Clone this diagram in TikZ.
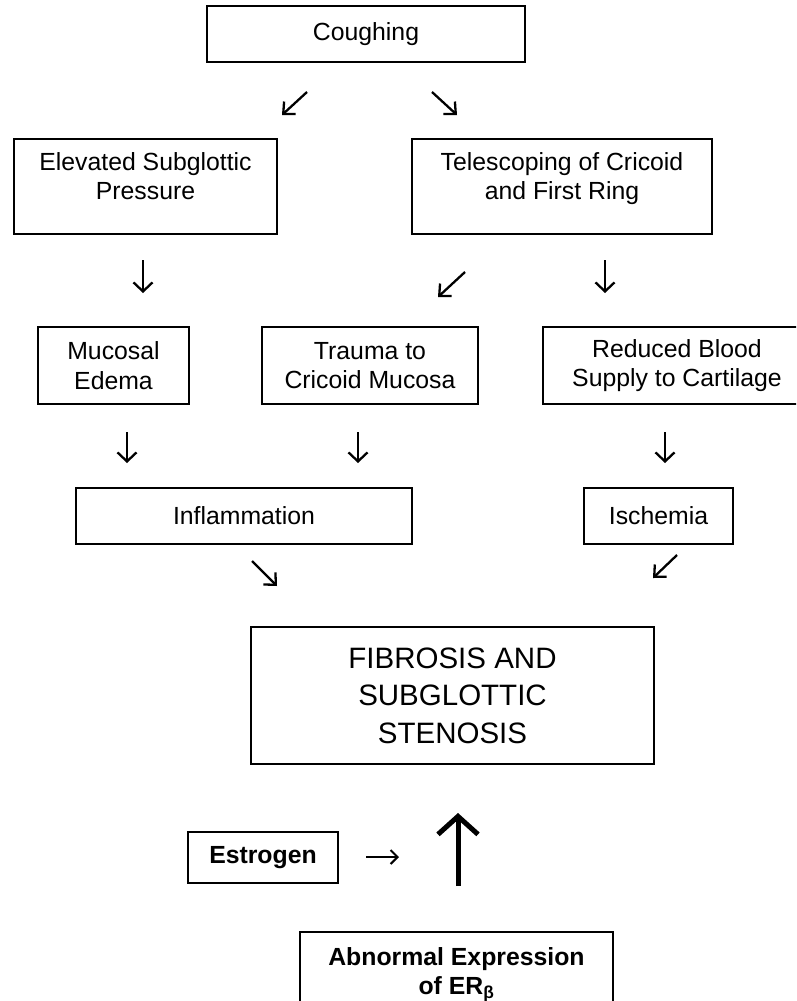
\documentclass[tikz,border=0pt]{standalone}
\usepackage{fontspec}
\setmainfont{Liberation Sans}
\usetikzlibrary{arrows.meta}
\newcommand{\upby}[2]{\raisebox{#1}[\height][\depth]{#2}}
\begin{document}
\begin{tikzpicture}[x=1pt,y=-1pt,
  box/.style={draw, line width=1.4pt, inner sep=0pt, align=center,
    font=\fontsize{24.8}{29.5}\selectfont},
  boldbox/.style={box, font=\fontsize{24.8}{29.5}\selectfont\bfseries},
  bigbox/.style={box, font=\fontsize{29.5}{37.5}\selectfont},
  arr/.style={line width=2.3pt, -{Straight Barb[length=9pt,width=19pt]}},
  darr/.style={line width=2.3pt, -{Straight Barb[length=9pt,width=17pt]}},
  harr/.style={line width=2pt, -{Straight Barb[length=7pt,width=14pt]}},
  bigarr/.style={line width=5pt, -{Straight Barb[length=18pt,width=40pt]}}]
\useasboundingbox (0,0) rectangle (796,1001);
\clip (0,0) rectangle (796,1001);
% boxes
\node[box, minimum width=318, minimum height=56] (cough) at (366,34) {Coughing};
\node[box, minimum width=263, minimum height=95] (elev) at (145.5,186.5)
  {\upby{7.5pt}{\begin{tabular}{@{}c@{}}Elevated Subglottic\\Pressure\end{tabular}}};
\node[box, minimum width=300, minimum height=95] (tele) at (562,186.5)
  {\upby{7.5pt}{\begin{tabular}{@{}c@{}}Telescoping of Cricoid\\and First Ring\end{tabular}}};
\node[box, minimum width=151, minimum height=77] (muc) at (113.5,365.5) {Mucosal\\Edema};
\node[box, minimum width=216, minimum height=77] (trauma) at (370,365.5) {Trauma to\\Cricoid Mucosa};
\node[box, minimum width=268, minimum height=77] (blood) at (677,365.5) {Reduced Blood\\Supply to Cartilage};
\node[box, minimum width=336, minimum height=56] (infl) at (244,516) {Inflammation};
\node[box, minimum width=149, minimum height=56] (isch) at (658.5,516) {Ischemia};
\node[bigbox, minimum width=403, minimum height=137] (fib) at (452.5,695.5) {FIBROSIS AND\\SUBGLOTTIC\\STENOSIS};
\node[boldbox, minimum width=150, minimum height=51] (estr) at (263,857.5) {Estrogen};
\node[boldbox, minimum width=313, minimum height=86] (abn) at (456.5,975) {Abnormal Expression\\of ER\textsubscript{β}};
% arrow end points
\coordinate (a1s) at (307,92);  \coordinate (a1e) at (282,115);
\coordinate (a2s) at (432,92);  \coordinate (a2e) at (457,115);
\coordinate (a3s) at (143,260); \coordinate (a3e) at (143,293);
\coordinate (a4s) at (465,272); \coordinate (a4e) at (438,297);
\coordinate (a5s) at (605,260); \coordinate (a5e) at (605,293);
\coordinate (a6s) at (127,432); \coordinate (a6e) at (127,463);
\coordinate (a7s) at (358,432); \coordinate (a7e) at (358,463);
\coordinate (a8s) at (665,432); \coordinate (a8e) at (665,463);
\coordinate (a9s) at (252,561); \coordinate (a9e) at (277,586);
\coordinate (a10s) at (677,555); \coordinate (a10e) at (653,578);
\coordinate (a11s) at (366,857); \coordinate (a11e) at (399,857);
\coordinate (a12s) at (458,886); \coordinate (a12e) at (458,813);
% arrows
\draw[darr] (a1s) -- (a1e);
\draw[darr] (a2s) -- (a2e);
\draw[arr] (a3s) -- (a3e);
\draw[darr] (a4s) -- (a4e);
\draw[arr] (a5s) -- (a5e);
\draw[arr] (a6s) -- (a6e);
\draw[arr] (a7s) -- (a7e);
\draw[arr] (a8s) -- (a8e);
\draw[darr] (a9s) -- (a9e);
\draw[darr] (a10s) -- (a10e);
\draw[harr] (a11s) -- (a11e);
\draw[bigarr] (a12s) -- (a12e);
\end{tikzpicture}
\end{document}
